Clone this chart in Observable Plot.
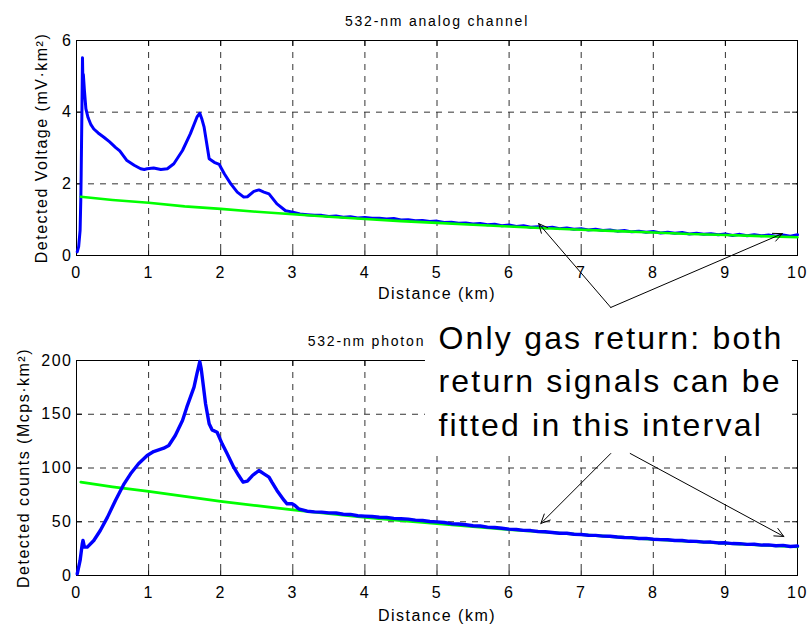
<!DOCTYPE html>
<html>
<head>
<meta charset="utf-8">
<script src="https://cdn.jsdelivr.net/npm/d3@7"></script>
<script src="https://cdn.jsdelivr.net/npm/@observablehq/plot@0.6"></script>
<style>
  html, body { margin: 0; padding: 0; background: #fff; }
  #wrap { width: 808px; height: 624px; position: relative; background: #fff; }
  #wrap svg { display: block; }
</style>
</head>
<body>
<div id="wrap"></div>
<script>
// ---------- data ----------
const xTicks = [0, 1, 2, 3, 4, 5, 6, 7, 8, 9, 10];
const topYTicks = [0, 2, 4, 6];
const botYTicks = [0, 50, 100, 150, 200];

const topTitle = "532-nm analog channel";
const botTitle = "532-nm photon-counting channel";
const xLabel = "Distance (km)";
const topYLabel = "Detected Voltage (mV·km²)";
const botYLabel = "Detected counts (Mcps·km²)";
const annotationLines = ["Only gas return: both", "return signals can be", "fitted in this interval"];

// analog channel (blue = measured, green = fit)
const topBlueDist = [0.01,0.03,0.05,0.06,0.065,0.075,0.083,0.09,0.095,0.11,0.13,0.16,0.2,0.24,0.3,0.38,0.46,0.54,0.6,0.7,0.8,0.89,0.94,0.98,1.07,1.17,1.26,1.35,1.47,1.58,1.67,1.71,1.74,1.77,1.84,1.91,1.98,2.05,2.14,2.23,2.32,2.37,2.46,2.53,2.6,2.67,2.78,2.9,3.0,3.1,
  3.2,3.3,3.4,3.5,3.6,3.7,3.8,3.9,4.0,4.1,4.2,4.3,4.4,4.5,4.6,4.7,4.8,4.9,5.0,5.1,5.2,5.3,5.4,5.5,5.6,5.7,5.8,5.9,6.0,6.1,6.2,6.3,6.4,6.5,6.6,6.7,6.8,6.9,7.0,7.1,7.2,7.3,7.4,7.5,7.6,7.7,7.8,7.9,8.0,8.1,8.2,8.3,8.4,8.5,8.6,8.7,8.8,8.9,9.0,9.1,9.2,9.3,9.4,9.5,9.6,9.7,9.8,9.9,10.0];
const topBlueVal = [0.10,0.25,0.70,1.6,2.3,4.0,5.52,4.7,5.05,4.6,4.1,3.85,3.65,3.53,3.42,3.30,3.17,3.02,2.92,2.65,2.52,2.42,2.40,2.42,2.44,2.40,2.42,2.56,2.93,3.40,3.86,3.97,3.80,3.58,2.70,2.60,2.54,2.28,2.00,1.77,1.63,1.64,1.79,1.83,1.77,1.72,1.44,1.25,1.21,1.16,
  1.14,1.12,1.12,1.09,1.10,1.07,1.08,1.05,1.06,1.04,1.04,1.02,1.03,0.99,1.00,0.97,0.98,0.95,0.96,0.92,0.93,0.90,0.91,0.88,0.89,0.86,0.87,0.83,0.85,0.81,0.83,0.79,0.80,0.77,0.79,0.75,0.77,0.73,0.75,0.71,0.73,0.70,0.71,0.68,0.70,0.66,0.68,0.65,0.67,0.63,0.65,0.62,0.64,0.60,0.62,0.59,0.61,0.58,0.60,0.56,0.59,0.55,0.58,0.55,0.57,0.54,0.57,0.54,0.58];
const topGreenDist = [0.06,0.5,1,1.5,2,2.5,3,3.5,4,4.5,5,5.5,6,6.5,7,7.5,8,8.5,9,9.5,10];
const topGreenVal = [1.64,1.55,1.47,1.37,1.30,1.22,1.15,1.08,1.02,0.96,0.91,0.86,0.81,0.76,0.72,0.68,0.64,0.60,0.57,0.54,0.51];

// photon-counting channel
const botBlueDist = [0.01,0.05,0.08,0.09,0.11,0.15,0.24,0.33,0.43,0.54,0.66,0.75,0.86,0.98,1.07,1.21,1.28,1.37,1.47,1.53,1.63,1.67,1.71,1.73,1.79,1.84,1.88,1.95,2.02,2.09,2.18,2.25,2.31,2.37,2.44,2.53,2.6,2.67,2.71,2.78,2.88,2.92,2.99,3.03,3.08,
  3.2,3.3,3.4,3.5,3.6,3.7,3.8,3.9,4.0,4.1,4.2,4.3,4.4,4.5,4.6,4.7,4.8,4.9,5.0,5.1,5.2,5.3,5.4,5.5,5.6,5.7,5.8,5.9,6.0,6.1,6.2,6.3,6.4,6.5,6.6,6.7,6.8,6.9,7.0,7.1,7.2,7.3,7.4,7.5,7.6,7.7,7.8,7.9,8.0,8.1,8.2,8.3,8.4,8.5,8.6,8.7,8.8,8.9,9.0,9.1,9.2,9.3,9.4,9.5,9.6,9.7,9.8,9.9,10.0];
const botBlueVal = [1.5,14,29.5,32.6,26.4,26.4,32.6,41.9,54.3,69.8,85.3,94.6,103.9,111.6,115.3,118.4,120.9,130.2,144.2,156.6,175.2,187.6,199,192.2,159.7,141.1,135.5,133.3,122.5,113.2,100.8,93.0,86.8,87.8,93.0,97.7,94.6,91.5,86.8,79.1,69.8,66.7,66.7,65.1,62.0,
  59.8,59.2,59.0,58.3,58.1,57.0,56.8,55.6,55.2,54.9,54.2,54.0,53.1,52.8,52.4,51.5,51.2,50.2,49.9,49.3,48.2,47.9,47.2,46.3,46.0,45.0,44.6,43.9,43.1,42.8,42.0,41.8,40.9,40.7,40.0,39.3,39.3,38.4,38.2,37.5,37.3,36.6,36.5,35.8,35.4,35.2,34.4,34.5,33.7,33.4,33.2,32.5,32.6,31.8,31.7,31.0,31.1,30.3,30.4,29.7,29.6,29.0,29.1,28.3,28.5,27.7,28.0,27.0,27.4];
const botGreenDist = [0.06,0.5,1,1.5,2,2.5,3,3.5,4,4.5,5,5.5,6,6.5,7,7.5,8,8.5,9,9.5,10];
const botGreenVal = [86.8,82.5,78.2,73.5,69.0,65.0,61.0,57.5,54.2,51.0,48.2,45.4,42.8,40.3,38.0,35.8,33.7,31.8,30.0,28.2,26.6];

// annotation anchors (data coordinates)
const topArrows = [
  {x1: 7.41, y1: -1.45, x2: 6.41, y2: 0.89},
  {x1: 7.41, y1: -1.45, x2: 9.79, y2: 0.61}
];
const botArrows = [
  {x1: 7.41, y1: 113.5, x2: 6.44, y2: 48.4},
  {x1: 7.68, y1: 113.5, x2: 9.81, y2: 36.3}
];
const noteBox = [{x1: 4.84, x2: 9.93, y1: 114, y2: 235}];
const noteAnchor = [{x: 5.02, y: 130.2, text: annotationLines.join("\n")}];

// ---------- build ----------
const rows = (xs, ys) => xs.map((x, i) => ({x, y: ys[i]}));
const BLUE = "#0000ff", GREEN = "#00ff00";
const FONT = "'Liberation Sans', Arial, Helvetica, sans-serif";

const tickShape = {draw(context, l) { context.moveTo(0, 0); context.lineTo(0, -l); }};
function innerTicks(xt, yt, xDom, yDom) {
  const o = {length: 5, anchor: "start", shape: tickShape, stroke: "black", strokeWidth: 1};
  return [
    Plot.vector(xt, {...o, x: d => d, y: yDom[0], rotate: 0}),
    Plot.vector(xt, {...o, x: d => d, y: yDom[1], rotate: 180}),
    Plot.vector(yt, {...o, x: xDom[0], y: d => d, rotate: 90}),
    Plot.vector(yt, {...o, x: xDom[1], y: d => d, rotate: -90})
  ];
}
function grid(xt, yt) {
  const g = {stroke: "#333", strokeWidth: 1, strokeDasharray: "6,6"};
  return [
    Plot.ruleX(xt.slice(1, -1), g),
    Plot.ruleY(yt.slice(1, -1), g)
  ];
}
const baseStyle = {fontFamily: FONT, fontSize: "16px", color: "black", background: "white", overflow: "visible"};

const xDom = [0, 10];
const topDom = [0, 6];
const botDom = [0, 200];

const topChart = Plot.plot({
  width: 808, height: 310,
  marginLeft: 76, marginRight: 11, marginTop: 40, marginBottom: 55,
  style: baseStyle,
  x: {domain: xDom, ticks: xTicks, tickSize: 0, tickPadding: 11, label: null, tickFormat: d3.format("d")},
  y: {domain: topDom, ticks: topYTicks, tickSize: 0, tickPadding: 4, label: null, tickFormat: d3.format("d")},
  marks: [
    ...grid(xTicks, topYTicks),
    ...innerTicks(xTicks, topYTicks, xDom, topDom),
    Plot.frame({stroke: "black", strokeWidth: 1}),
    Plot.line(rows(topBlueDist, topBlueVal), {x: "x", y: "y", stroke: BLUE, strokeWidth: 3}),
    Plot.line(rows(topGreenDist, topGreenVal), {x: "x", y: "y", stroke: GREEN, strokeWidth: 2.6}),
    Plot.text([topTitle], {frameAnchor: "top", dy: -15, lineAnchor: "bottom", fontSize: 14}),
    Plot.text([xLabel], {frameAnchor: "bottom", dy: 43, lineAnchor: "bottom"}),
    Plot.text([topYLabel], {frameAnchor: "left", textAnchor: "middle", dx: -30, rotate: -90, lineAnchor: "bottom"}),
    Plot.arrow(topArrows, {x1: "x1", y1: "y1", x2: "x2", y2: "y2", stroke: "black", strokeWidth: 1, headLength: 15, headAngle: 50})
  ]
});

const bottomChart = Plot.plot({
  width: 808, height: 314,
  marginLeft: 76, marginRight: 11, marginTop: 50, marginBottom: 49,
  style: baseStyle,
  x: {domain: xDom, ticks: xTicks, tickSize: 0, tickPadding: 11, label: null, tickFormat: d3.format("d")},
  y: {domain: botDom, ticks: botYTicks, tickSize: 0, tickPadding: 4, label: null, tickFormat: d3.format("d")},
  marks: [
    ...grid(xTicks, botYTicks),
    ...innerTicks(xTicks, botYTicks, xDom, botDom),
    Plot.frame({stroke: "black", strokeWidth: 1}),
    Plot.line(rows(botGreenDist, botGreenVal), {x: "x", y: "y", stroke: GREEN, strokeWidth: 2.8}),
    Plot.line(rows(botBlueDist, botBlueVal), {x: "x", y: "y", stroke: BLUE, strokeWidth: 3.4}),
    Plot.text([botTitle], {frameAnchor: "top", dy: -15, lineAnchor: "bottom", fontSize: 14}),
    Plot.text([xLabel], {frameAnchor: "bottom", dy: 45, lineAnchor: "bottom"}),
    Plot.text([botYLabel], {frameAnchor: "left", textAnchor: "middle", dx: -48, rotate: -90, lineAnchor: "bottom"}),
    Plot.rect(noteBox, {x1: "x1", x2: "x2", y1: "y1", y2: "y2", fill: "white"}),
    Plot.text(noteAnchor, {x: "x", y: "y", text: "text", textAnchor: "start", lineAnchor: "bottom", lineHeight: 1.36, fontSize: 32}),
    Plot.arrow(botArrows, {x1: "x1", x2: "x2", y1: "y1", y2: "y2", stroke: "black", strokeWidth: 1, headLength: 15, headAngle: 50})
  ]
});

const wrap = document.getElementById("wrap");
wrap.appendChild(topChart);
wrap.appendChild(bottomChart);

// text spacing to mimic the reference's wide glyph spacing
d3.selectAll("#wrap text").each(function () {
  const t = this.textContent;
  let ls = "1.5px";
  if (t.startsWith("Only")) ls = "2.2px";
  else if (t === topTitle || t === botTitle) ls = "1.8px";
  d3.select(this).style("letter-spacing", ls).style("font-family", FONT);
});
</script>
</body>
</html>
